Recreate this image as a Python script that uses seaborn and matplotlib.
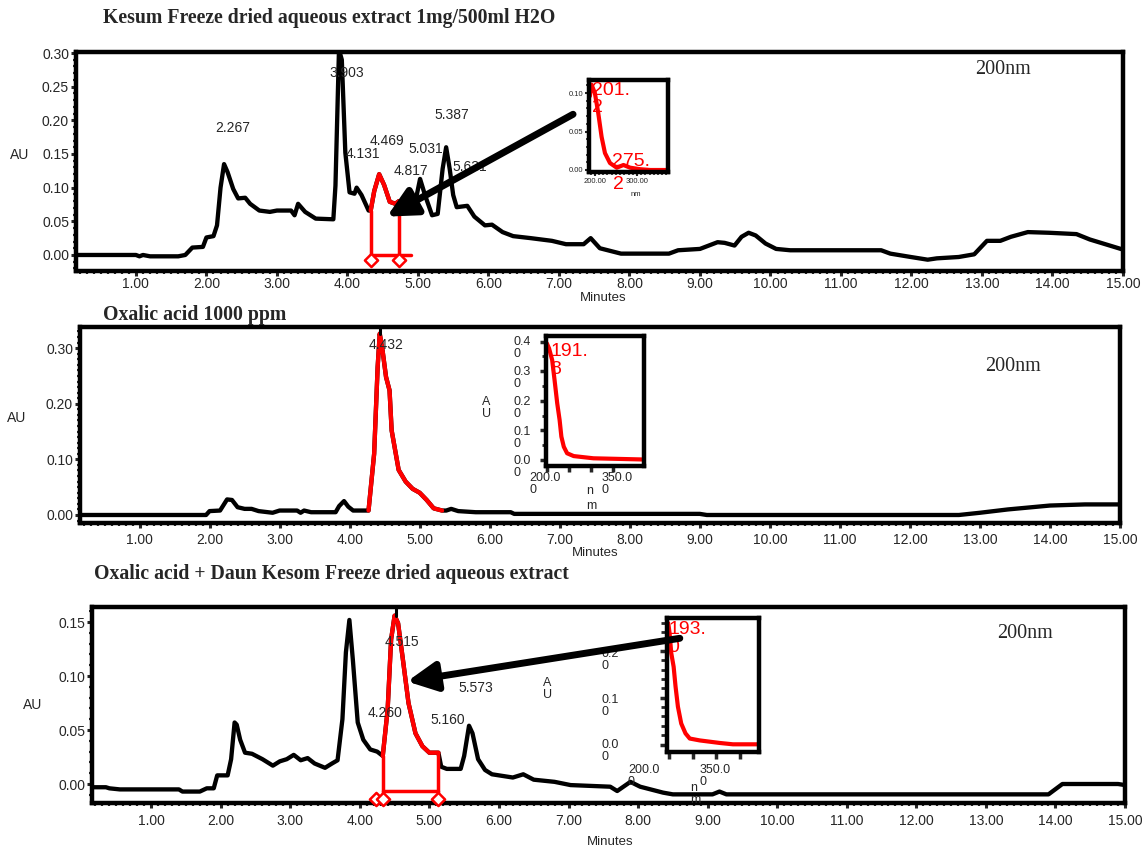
import numpy as np
import pandas as pd
import matplotlib
matplotlib.use("Agg")
import matplotlib.pyplot as plt
import seaborn as sns
from matplotlib.ticker import MultipleLocator, FormatStrFormatter
from matplotlib.patches import FancyArrowPatch

# ---- chromatogram 1 : Kesum freeze dried extract ----
kesum_time = [0.15, 1.0, 1.05, 1.1, 1.2, 1.6, 1.7, 1.8, 1.95, 2.0, 2.1, 2.15, 2.2, 2.25, 2.3,
              2.38, 2.45, 2.55, 2.62, 2.75, 2.9, 3.0, 3.2, 3.25, 3.3, 3.4, 3.55, 3.8, 3.83,
              3.88, 3.92, 3.97, 4.03, 4.1, 4.13, 4.2, 4.3, 4.33, 4.38, 4.45, 4.52, 4.6, 4.68,
              4.73, 4.78, 4.85, 4.95, 5.03, 5.1, 5.2, 5.28, 5.35, 5.4, 5.45, 5.5, 5.55, 5.7,
              5.8, 5.95, 6.05, 6.2, 6.35, 6.6, 6.9, 7.1, 7.35, 7.45, 7.58, 7.88, 8.56, 8.69,
              9.0, 9.25, 9.35, 9.49, 9.59, 9.69, 9.79, 9.93, 10.08, 10.28, 11.57, 11.7, 11.99,
              12.23, 12.36, 12.67, 12.89, 13.07, 13.26, 13.41, 13.65, 13.95, 14.34, 14.53, 15.0]
kesum_au = [0.0, 0.0, -0.002, 0.0, -0.002, -0.002, 0.0, 0.011, 0.012, 0.026, 0.028, 0.044, 0.10,
            0.135, 0.123, 0.098, 0.084, 0.085, 0.076, 0.066, 0.064, 0.066, 0.066, 0.059, 0.076,
            0.064, 0.054, 0.053, 0.103, 0.305, 0.29, 0.152, 0.093, 0.091, 0.10, 0.089, 0.066,
            0.066, 0.095, 0.12, 0.104, 0.079, 0.076, 0.08, 0.078, 0.064, 0.072, 0.113, 0.089,
            0.059, 0.061, 0.128, 0.16, 0.128, 0.089, 0.071, 0.073, 0.057, 0.044, 0.045, 0.034,
            0.028, 0.025, 0.021, 0.016, 0.016, 0.025, 0.010, 0.002, 0.002, 0.007, 0.009, 0.019,
            0.018, 0.014, 0.027, 0.033, 0.029, 0.017, 0.009, 0.007, 0.007, 0.002, -0.003,
            -0.007, -0.005, -0.003, 0.001, 0.021, 0.021, 0.027, 0.034, 0.033, 0.031, 0.023, 0.008]
kesum_red = (4.33, 4.73)
kesum_marks = [4.33, 4.73]
kesum_peaks = ["2.267", "3.903", "4.131", "4.469", "4.817", "5.031", "5.387", "5.631"]

# ---- chromatogram 2 : Oxalic acid 1000 ppm ----
oxalic_time = [0.15, 1.95, 2.0, 2.15, 2.25, 2.32, 2.4, 2.5, 2.6, 2.7, 2.9, 3.0, 3.25, 3.3, 3.35,
               3.45, 3.8, 3.85, 3.92, 3.98, 4.05, 4.27, 4.35, 4.4, 4.43, 4.47, 4.52, 4.57, 4.6,
               4.7, 4.8, 4.9, 5.0, 5.1, 5.2, 5.32, 5.38, 5.45, 5.55, 5.8, 6.3, 6.35, 9.0, 9.1,
               12.7, 13.0, 13.4, 14.0, 14.5, 15.0]
oxalic_au = [0.0, 0.0, 0.007, 0.008, 0.028, 0.027, 0.014, 0.011, 0.011, 0.007, 0.004, 0.008,
             0.008, 0.004, 0.008, 0.005, 0.005, 0.016, 0.025, 0.015, 0.008, 0.008, 0.11, 0.266,
             0.326, 0.296, 0.248, 0.224, 0.152, 0.081, 0.060, 0.047, 0.040, 0.027, 0.012, 0.008,
             0.008, 0.011, 0.007, 0.005, 0.005, 0.002, 0.002, 0.0, 0.0, 0.004, 0.010, 0.017,
             0.019, 0.019]
oxalic_red = (4.27, 5.32)
oxalic_peaks = ["4.432"]

# ---- chromatogram 3 : Oxalic acid + Daun Kesom extract ----
mix_time = [0.15, 0.35, 0.4, 0.55, 1.4, 1.45, 1.7, 1.8, 1.9, 1.95, 2.1, 2.15, 2.2, 2.23, 2.28,
            2.35, 2.45, 2.6, 2.75, 2.85, 2.95, 3.05, 3.15, 3.25, 3.35, 3.5, 3.6, 3.68, 3.75,
            3.8, 3.85, 3.9, 3.97, 4.05, 4.15, 4.25, 4.33, 4.4, 4.45, 4.5, 4.55, 4.62, 4.7, 4.8,
            4.9, 5.0, 5.13, 5.17, 5.25, 5.45, 5.5, 5.57, 5.62, 5.7, 5.8, 5.9, 6.2, 6.35, 6.5,
            6.8, 7.03, 7.6, 7.7, 7.89, 8.03, 8.36, 8.5, 9.07, 9.17, 9.27, 13.9, 14.1, 14.9, 15.0]
mix_au = [-0.003, -0.003, -0.004, -0.005, -0.005, -0.007, -0.007, -0.004, -0.004, 0.008, 0.008,
          0.023, 0.057, 0.055, 0.041, 0.029, 0.028, 0.023, 0.017, 0.021, 0.023, 0.027, 0.022,
          0.024, 0.019, 0.015, 0.019, 0.022, 0.060, 0.122, 0.152, 0.115, 0.057, 0.041, 0.032,
          0.030, 0.026, 0.069, 0.134, 0.156, 0.149, 0.115, 0.075, 0.047, 0.035, 0.029, 0.029,
          0.016, 0.014, 0.014, 0.026, 0.054, 0.047, 0.023, 0.013, 0.009, 0.006, 0.009, 0.004,
          0.002, -0.001, -0.0025, -0.0065, 0.002, -0.0025, -0.008, -0.0096, -0.0096, -0.007,
          -0.0096, -0.0096, 0.0, 0.0, -0.001]
mix_red = (4.33, 5.13)
mix_marks = [4.23, 4.34, 5.13]
mix_peaks = ["4.515", "4.260", "5.160", "5.573"]

# ---- UV spectra (insets) ----
spec1_nm = [188, 192, 200, 208, 216, 224, 236, 252, 268, 284, 308, 332, 372]
spec1_au = [0.096, 0.111, 0.100, 0.074, 0.043, 0.022, 0.009, 0.003, 0.0065, 0.003, 0.001, 0.0, 0.0]
spec2_nm = [199, 204, 211, 216.5, 222.5, 228, 232, 237.5, 245, 260, 275, 305, 418]
spec2_au = [0.394, 0.377, 0.338, 0.270, 0.192, 0.135, 0.079, 0.045, 0.023, 0.0135, 0.011, 0.006, 0.002]
spec3_nm = [196.5, 198.6, 201.4, 205, 210, 214, 219, 226, 235, 244, 265, 307, 335, 388]
spec3_au = [0.256, 0.259, 0.238, 0.195, 0.166, 0.124, 0.081, 0.045, 0.024, 0.013, 0.009,
            0.0036, 0.0007, 0.0007]

W, H = 1142, 850
def box(l, t, r, b):
    return [l / W, 1 - b / H, (r - l) / W, (b - t) / H]
def pt(x, y):
    return (x / W, 1 - y / H)

sns.set_style("white")
plt.rcParams['font.family'] = ['Liberation Sans', 'DejaVu Sans']
SERIF = ['Liberation Serif', 'DejaVu Serif']

fig = plt.figure(figsize=(11.42, 8.5), dpi=100)


def draw_trace(ax, t, au, red):
    df = pd.DataFrame({'t': t, 'au': au})
    sns.lineplot(data=df, x='t', y='au', color='black', lw=3.1, sort=False,
                 estimator=None, ax=ax)
    seg = df[(df.t >= red[0]) & (df.t <= red[1])]
    sns.lineplot(data=seg, x='t', y='au', color='red', lw=3.1, sort=False,
                 estimator=None, ax=ax)
    return df


def style_main(ax, xlim, ylim, ymajor, xpad):
    ax.set_xlim(xlim)
    ax.set_ylim(ylim)
    ax.xaxis.set_major_locator(MultipleLocator(1))
    ax.xaxis.set_minor_locator(MultipleLocator(0.1))
    ax.yaxis.set_major_locator(MultipleLocator(ymajor))
    ax.yaxis.set_minor_locator(MultipleLocator(0.01))
    ax.xaxis.set_major_formatter(FormatStrFormatter('%.2f'))
    ax.yaxis.set_major_formatter(FormatStrFormatter('%.2f'))
    ax.tick_params(which='major', direction='out', length=3.5, width=2.2, labelsize=10,
                   pad=1.5, bottom=True, left=True)
    ax.tick_params(axis='x', which='major', pad=xpad)
    ax.tick_params(which='minor', direction='out', length=2.5, width=1.6, bottom=True, left=True)
    for s in ax.spines.values():
        s.set_linewidth(3.2)
        s.set_color('black')
    ax.set_xlabel('')
    ax.set_ylabel('')


def style_inset(ax, xlim, ylim):
    ax.set_xlim(xlim)
    ax.set_ylim(ylim)
    ax.set_facecolor('white')
    for s in ax.spines.values():
        s.set_linewidth(3.2)
        s.set_color('black')
    ax.set_xlabel('')
    ax.set_ylabel('')


# ================= panel 1 =================
ax1 = fig.add_axes(box(76, 52, 1123, 271))
draw_trace(ax1, kesum_time, kesum_au, kesum_red)
style_main(ax1, (0.15, 15.0), (-0.0238, 0.3015), 0.05, 1.0)
ax1.plot([kesum_marks[0], 4.9], [0.0, 0.0], color='red', lw=2.5)
for m in kesum_marks:
    yv = np.interp(m, kesum_time, kesum_au)
    ax1.plot([m, m], [-0.008, yv], color='red', lw=2.5)
ax1.scatter(kesum_marks, [-0.008] * len(kesum_marks), marker='D', s=45, facecolor='white',
            edgecolor='red', linewidth=1.8, zorder=5, clip_on=False)
p1_lab = [(2.38, 0.189), (3.99, 0.27), (4.22, 0.15), (4.56, 0.169), (4.90, 0.124),
          (5.11, 0.157), (5.48, 0.208), (5.73, 0.13)]
for lab, (x, y) in zip(kesum_peaks, p1_lab):
    ax1.text(x, y, lab, ha='center', va='center', fontsize=10)

# ================= panel 2 =================
ax2 = fig.add_axes(box(80, 327, 1120, 523))
draw_trace(ax2, oxalic_time, oxalic_au, oxalic_red)
style_main(ax2, (0.15, 15.0), (-0.0144, 0.338), 0.10, 3.5)
ax2.plot([float(oxalic_peaks[0])] * 2, [np.max(oxalic_au), 0.338], color='black', lw=2.2)
ax2.text(4.52, 0.306, oxalic_peaks[0], ha='center', va='center', fontsize=10)

# ================= panel 3 =================
ax3 = fig.add_axes(box(92, 607, 1125, 803))
draw_trace(ax3, mix_time, mix_au, mix_red)
style_main(ax3, (0.15, 15.0), (-0.0176, 0.164), 0.05, 4.5)
ax3.plot([mix_red[0], mix_red[1]], [-0.0062, -0.0062], color='red', lw=2.5)
for m in mix_red:
    yv = np.interp(m, mix_time, mix_au)
    ax3.plot([m, m], [-0.0136, yv], color='red', lw=2.5)
ax3.scatter(mix_marks, [-0.0136] * len(mix_marks), marker='D', s=45, facecolor='white',
            edgecolor='red', linewidth=1.8, zorder=5, clip_on=False)
ax3.plot([float(mix_peaks[0])] * 2, [np.max(mix_au), 0.164], color='black', lw=2.2)
p3_lab = [(4.61, 0.132), (4.36, 0.066), (5.26, 0.059), (5.67, 0.089)]
for lab, (x, y) in zip(mix_peaks, p3_lab):
    ax3.text(x, y, lab, ha='center', va='center', fontsize=10)
ax3.text(6.70, 0.088, "A\nU", ha='center', va='center', fontsize=9, linespacing=1.1)

# ================= inset 1 =================
in1 = fig.add_axes(box(589, 80, 668, 172))
sns.lineplot(x=spec1_nm, y=spec1_au, color='red', lw=3, sort=False, estimator=None, ax=in1)
style_inset(in1, (186, 374), (-0.0026, 0.117))
in1.set_xticks([200, 300])
in1.set_xticklabels(['200.00', '300.00'])
in1.set_yticks([0.0, 0.05, 0.10])
in1.set_yticklabels(['0.00', '0.05', '0.10'])
in1.xaxis.set_minor_locator(MultipleLocator(10))
in1.yaxis.set_minor_locator(MultipleLocator(0.01))
in1.tick_params(which='major', direction='out', length=3, width=1.5, labelsize=5.5, pad=1,
                bottom=True, left=True)
in1.tick_params(which='minor', direction='out', length=2, width=1.2, bottom=True, left=True)
fig.text(*pt(631, 194), "nm", fontsize=5.5, ha='left', va='center')
fig.text(*pt(592, 82), "201.\n2", color='red', fontsize=14, ha='left', va='top', linespacing=1.0)
fig.text(*pt(612, 153), "275.", color='red', fontsize=14, ha='left', va='top')
fig.text(*pt(613, 176), "2", color='red', fontsize=14, ha='left', va='top')

# ================= inset 2 =================
in2 = fig.add_axes(box(546, 336, 644, 466))
sns.lineplot(x=spec2_nm, y=spec2_au, color='red', lw=3, sort=False, estimator=None, ax=in2)
style_inset(in2, (197, 420), (-0.02, 0.419))
in2.set_yticks([0.0, 0.1, 0.2, 0.3, 0.4])
in2.set_xticks([200, 250, 300, 350])
in2.yaxis.set_minor_locator(MultipleLocator(0.05))
in2.tick_params(which='major', direction='out', length=4, width=2.5, labelleft=False,
                labelbottom=False, bottom=True, left=True)
in2.tick_params(which='minor', direction='out', length=3, width=2, left=True)
for lab, y in zip(["0.4\n0", "0.3\n0", "0.2\n0", "0.1\n0", "0.0\n0"], [336, 366, 396, 426, 455]):
    fig.text(*pt(513, y), lab, fontsize=9, ha='left', va='top', linespacing=1.0)
fig.text(*pt(529, 472), "200.0\n0", fontsize=9, ha='left', va='top', linespacing=1.0)
fig.text(*pt(602, 472), "350.0\n0", fontsize=9, ha='left', va='top', linespacing=1.0)
fig.text(*pt(586, 485), "n\nm", fontsize=9, ha='left', va='top', linespacing=1.3)
fig.text(*pt(482, 396), "A\nU", fontsize=9, ha='left', va='top', linespacing=1.0)
fig.text(*pt(550, 343), "191.\n8", color='red', fontsize=14, ha='left', va='top', linespacing=1.1)

# ================= inset 3 =================
in3 = fig.add_axes(box(667, 618, 759, 752))
sns.lineplot(x=spec3_nm, y=spec3_au, color='red', lw=3, sort=False, estimator=None, ax=in3)
style_inset(in3, (196, 390), (-0.0157, 0.27))
in3.set_yticks([0.0, 0.1, 0.2])
in3.set_xticks([200, 250, 300, 350])
in3.yaxis.set_minor_locator(MultipleLocator(0.02))
in3.tick_params(which='major', direction='out', length=5, width=2.5, labelleft=False,
                labelbottom=False, bottom=True, left=True)
in3.tick_params(which='minor', direction='out', length=4, width=2, left=True)
for lab, y in zip(["0.2\n0", "0.1\n0", "0.0\n0"], [648, 694, 739]):
    fig.text(*pt(601, y), lab, fontsize=9, ha='left', va='top', linespacing=1.0)
fig.text(*pt(628, 764), "200.0\n0", fontsize=9, ha='left', va='top', linespacing=1.0)
fig.text(*pt(700, 764), "350.0\n0", fontsize=9, ha='left', va='top', linespacing=1.0)
fig.text(*pt(690, 782), "n\nm", fontsize=9, ha='left', va='top', linespacing=1.0)
fig.text(*pt(668, 621), "193.\n0", color='red', fontsize=14, ha='left', va='top', linespacing=1.1)

# ================= arrows (on top of the insets) =================
for ax, tail, head in [(ax1, (7.2, 0.209), (4.56, 0.057)), (ax3, (8.6, 0.135), (4.68, 0.095))]:
    arr = FancyArrowPatch(posA=tail, posB=head, transform=ax.transData,
                          arrowstyle='-|>,head_length=1.1,head_width=0.55',
                          mutation_scale=16, lw=5.0, color='black',
                          shrinkA=0, shrinkB=0, zorder=10, capstyle='round')
    fig.add_artist(arr)

# ================= titles and axis texts =================
fig.text(*pt(103, 18), "Kesum Freeze dried aqueous extract 1mg/500ml H2O", family=SERIF,
         weight='bold', fontsize=14.2, ha='left', va='center')
fig.text(*pt(103, 315), "Oxalic acid 1000 ppm", family=SERIF, weight='bold', fontsize=14.2,
         ha='left', va='center')
fig.text(*pt(94, 574), "Oxalic acid + Daun Kesom Freeze dried aqueous extract", family=SERIF,
         weight='bold', fontsize=14.2, ha='left', va='center')
for x, y in [(975, 70), (985, 366), (997, 634)]:
    fig.text(*pt(x, y), "200nm", family=SERIF, fontsize=14.5, ha='left', va='center')
for x, y in [(20, 155), (17, 418), (33, 705)]:
    fig.text(*pt(x, y), "AU", fontsize=10, ha='center', va='center')
for x, y in [(603, 298), (595, 553), (610, 842)]:
    fig.text(*pt(x, y), "Minutes", fontsize=9.5, ha='center', va='center')

fig.savefig("out.png", dpi=100)
